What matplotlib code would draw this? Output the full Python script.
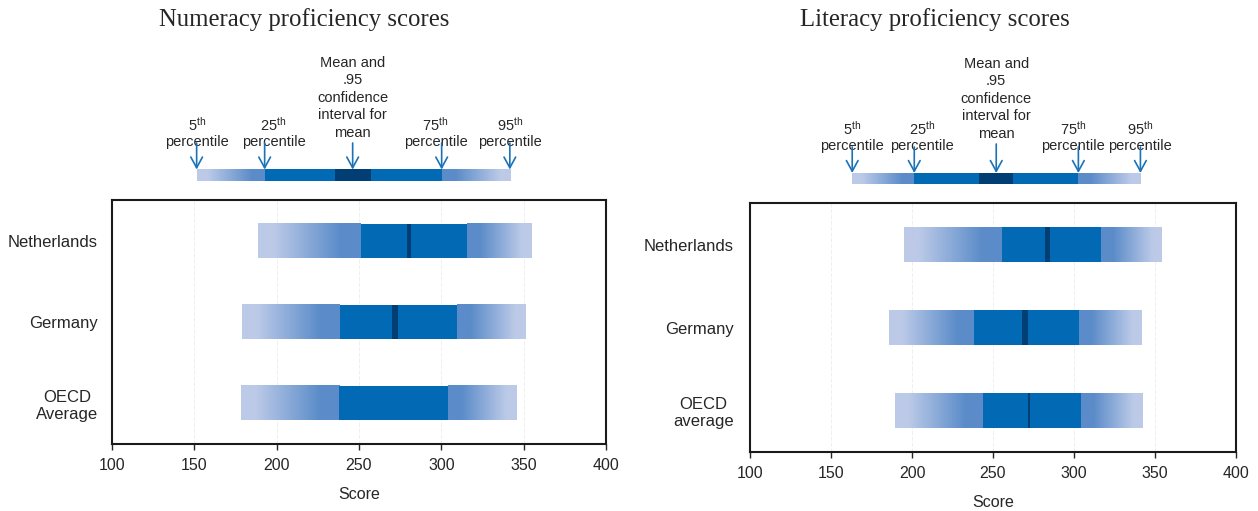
import matplotlib
matplotlib.use("Agg")
import matplotlib.pyplot as plt
import numpy as np
from matplotlib.colors import LinearSegmentedColormap
from matplotlib.patches import Rectangle

# score distributions per country: 5th, 25th, 75th, 95th percentile, mean CI
countries_num = ["Netherlands", "Germany", "OECD\nAverage"]
num_p05 = [188.5, 178.8, 178.1]
num_p25 = [251.0, 238.3, 237.9]
num_p75 = [315.4, 309.3, 303.8]
num_p95 = [354.8, 350.6, 345.7]
num_ci_lo = [279.2, 269.8, np.nan]
num_ci_hi = [281.6, 273.4, np.nan]

countries_lit = ["Netherlands", "Germany", "OECD\naverage"]
lit_p05 = [195.3, 186.0, 189.7]
lit_p25 = [255.7, 238.5, 244.0]
lit_p75 = [316.9, 303.3, 304.5]
lit_p95 = [354.5, 341.6, 342.2]
lit_ci_lo = [282.3, 267.6, 271.6]
lit_ci_hi = [285.4, 271.7, 272.8]

# example distribution used in the key above each panel
key_num = [151.4, 192.7, 235.2, 257.1, 300.2, 341.6]
key_lit = [163.1, 201.4, 241.5, 262.5, 302.7, 341.0]
key_labels = [r"5$^{\mathrm{th}}$" + "\npercentile", r"25$^{\mathrm{th}}$" + "\npercentile",
              r"75$^{\mathrm{th}}$" + "\npercentile", r"95$^{\mathrm{th}}$" + "\npercentile"]
key_mean_label = "Mean and\n.95\nconfidence\ninterval for\nmean"

LIGHT = "#bccae8"
MID = "#5b8cc9"
SOLID = "#026ab4"
DARK = "#003e73"
ARROW = "#1a72b8"
TEXT = "#262626"

plt.rcParams["font.family"] = ["Liberation Sans", "DejaVu Sans"]
plt.rcParams["mathtext.fontset"] = "custom"
plt.rcParams["mathtext.rm"] = "Liberation Sans"
plt.rcParams["mathtext.it"] = "Liberation Sans"
plt.rcParams["text.color"] = TEXT

ramp = LinearSegmentedColormap.from_list("ramp", [(0, LIGHT), (0.15, LIGHT), (0.8, MID), (1, MID)], N=256)
grad = np.linspace(0, 1, 256).reshape(1, -1)


def draw_bar(ax, y, h, p05, p25, p75, p95, lo, hi):
    ax.imshow(grad, cmap=ramp, extent=[p05, p25, y - h / 2, y + h / 2],
              aspect="auto", interpolation="bilinear", zorder=2)
    ax.imshow(grad[:, ::-1], cmap=ramp, extent=[p75, p95, y - h / 2, y + h / 2],
              aspect="auto", interpolation="bilinear", zorder=2)
    ax.add_patch(Rectangle((p25, y - h / 2), p75 - p25, h, color=SOLID, lw=0, zorder=3))
    if not np.isnan(lo):
        ax.add_patch(Rectangle((lo, y - h / 2), hi - lo, h, color=DARK, lw=0, zorder=4))


def panel(fig, rect, labels, p05, p25, p75, p95, lo, hi, pad):
    ax = fig.add_axes(rect)
    for i in range(len(labels)):
        draw_bar(ax, i, 0.42, p05[i], p25[i], p75[i], p95[i], lo[i], hi[i])
    ax.set_xlim(100, 400)
    ax.set_ylim(2.5, -0.5)
    ax.set_xticks(np.arange(100, 401, 50))
    ax.set_yticks(range(len(labels)))
    ax.set_yticklabels(labels, fontsize=12)
    for t in ax.get_yticklabels():
        t.set_multialignment("center")
    ax.tick_params(axis="y", length=0, pad=pad, colors=TEXT)
    ax.tick_params(axis="x", length=4, width=1, labelsize=11.5, pad=6, colors=TEXT)
    ax.grid(axis="x", color="#ececec", linestyle=(0, (5, 2)), lw=0.6, zorder=0)
    for s in ax.spines.values():
        s.set_linewidth(1.5)
        s.set_color("#1a1a1a")
    ax.set_xlabel("Score", fontsize=11.5, labelpad=10, color=TEXT)
    return ax


def key(fig, rect, vals, top, bar_y, bar_h, lab_y, mean_y, dx):
    # key axes uses the score scale on x and pixel rows on y
    ax = fig.add_axes(rect)
    ax.set_xlim(100, 400)
    ax.axis("off")
    p05, p25, lo, hi, p75, p95 = vals
    draw_bar(ax, bar_y, bar_h, p05, p25, p75, p95, lo, hi)
    ax.set_ylim(top + rect[3] * 511, top)
    tips = [p05, p25, p75, p95]
    arrow_kw = dict(arrowstyle="->,head_length=0.55,head_width=0.3", color=ARROW,
                    lw=1.2, shrinkA=0, shrinkB=0, mutation_scale=14)
    for x, lab, d in zip(tips, key_labels, dx):
        ax.annotate("", xy=(x, bar_y - bar_h / 2), xytext=(x, lab_y - 6), arrowprops=arrow_kw, zorder=5)
        ax.text(x + d * 300 / (rect[2] * 1258), lab_y, lab, ha="center", va="bottom",
                fontsize=10.5, linespacing=1.15)
    m = (lo + hi) / 2
    ax.annotate("", xy=(m, bar_y - bar_h / 2), xytext=(m, mean_y + 3), arrowprops=arrow_kw, zorder=5)
    ax.text(m, mean_y, key_mean_label, ha="center", va="bottom", fontsize=10.5, linespacing=1.32)
    return ax


fig = plt.figure(figsize=(12.58, 5.11), dpi=100)

panel(fig, [112 / 1258, 67 / 511, 494 / 1258, 244 / 511], countries_num,
      num_p05, num_p25, num_p75, num_p95, num_ci_lo, num_ci_hi, 10)
panel(fig, [750 / 1258, 59 / 511, 486 / 1258, 249 / 511], countries_lit,
      lit_p05, lit_p25, lit_p75, lit_p95, lit_ci_lo, lit_ci_hi, 11.5)

key(fig, [112 / 1258, (511 - 190) / 511, 494 / 1258, 150 / 511], key_num,
    40, 175.5, 12, 149, 140, [0, 9, -6, 0])
key(fig, [750 / 1258, (511 - 193) / 511, 486 / 1258, 150 / 511], key_lit,
    43, 178.5, 11, 153, 141, [0, 8, -5, 0])

fig.text(304 / 1258, 1 - 20 / 511, "Numeracy proficiency scores", ha="center", va="center",
         fontsize=17.8, family="Liberation Serif")
fig.text(935 / 1258, 1 - 20 / 511, "Literacy proficiency scores", ha="center", va="center",
         fontsize=17.8, family="Liberation Serif")

fig.savefig("out.png", dpi=100)
